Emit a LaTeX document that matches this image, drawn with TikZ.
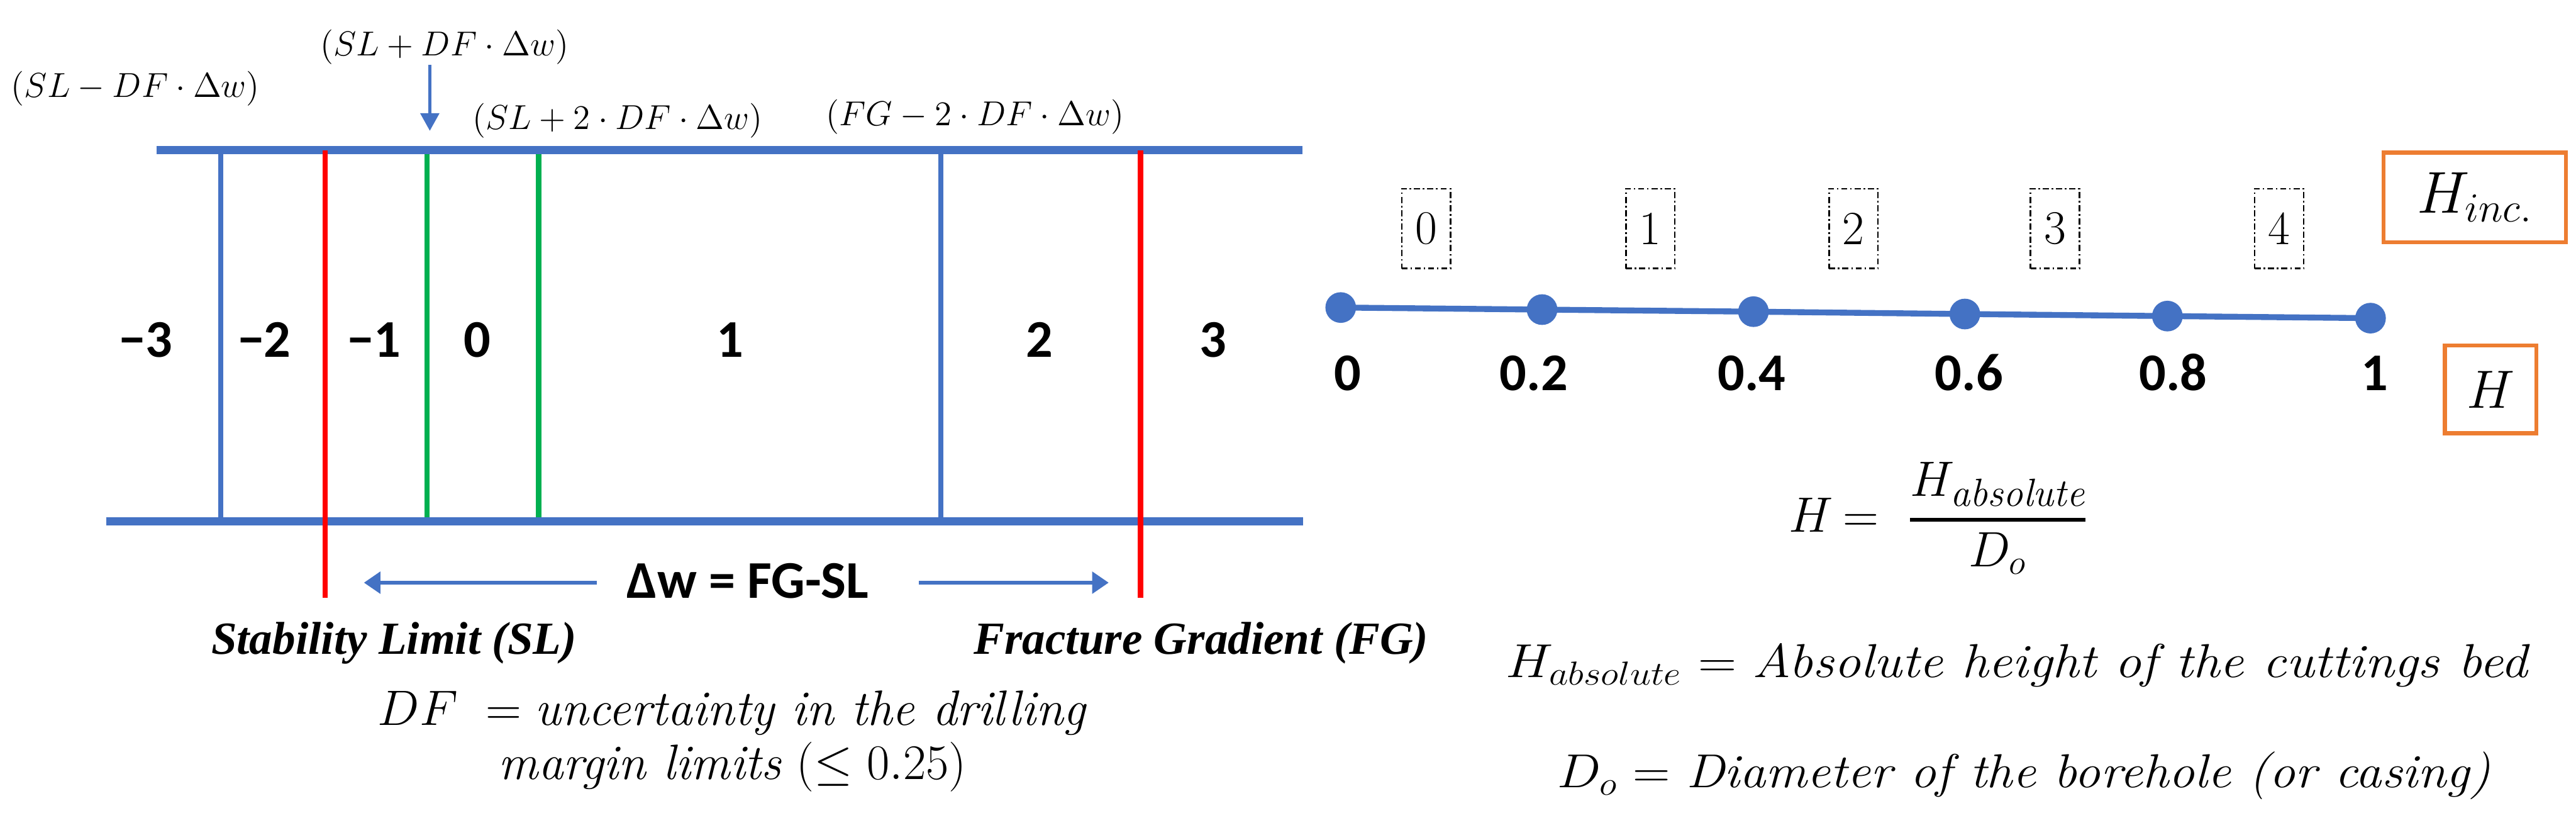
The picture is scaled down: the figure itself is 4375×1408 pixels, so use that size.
\RequirePackage{fix-cm}
\documentclass[tikz,border=0pt]{standalone}
\usepackage{amsmath,amssymb}
\usepackage{graphicx}
\usepackage{fontspec}
\usetikzlibrary{arrows.meta}
\newfontfamily\carlito{Carlito}
\newfontfamily\lserif{Liberation Serif}
\definecolor{oblue}{HTML}{4472C4}
\definecolor{ored}{HTML}{FF0000}
\definecolor{ogreen}{HTML}{00B050}
\definecolor{oorange}{HTML}{ED7D31}
\begin{document}
\begin{tikzpicture}[x=0.01cm,y=-0.01cm,
  rail/.style={oblue,line width=0.14cm},
  bluev/.style={oblue,line width=0.08cm},
  redv/.style={ored,line width=0.09cm},
  greenv/.style={ogreen,line width=0.09cm},
  zone/.style={font=\carlito\bfseries\fontsize{25.6}{30}\selectfont,inner sep=0,anchor=base},
  toplab/.style={font=\fontsize{16.7}{20}\selectfont,inner sep=0},
  limlab/.style={font=\lserif\bfseries\itshape\fontsize{22.2}{26}\selectfont,inner sep=0,anchor=base},
  dftext/.style={font=\fontsize{24}{26.2}\selectfont,inner sep=0,align=center},
  dwarrow/.style={oblue,line width=0.07cm,-{Triangle[length=0.28cm,width=0.36cm]}},
  smallarrow/.style={oblue,line width=0.045cm,-{Triangle[length=0.3cm,width=0.32cm]}},
  dbox/.style={draw=black,line width=0.025cm,dash pattern=on 0.1cm off 0.05cm on 0.025cm off 0.05cm,
    minimum width=0.83cm,minimum height=1.35cm,inner sep=0,font=\fontsize{23}{26}\selectfont},
  obox/.style={draw=oorange,line width=0.07cm,inner sep=0},
  dot/.style={circle,fill=oblue,minimum size=0.52cm,inner sep=0},
  eqfont/.style={font=\fontsize{24}{28}\selectfont,inner sep=0,anchor=base},
  eqtext/.style={font=\fontsize{23}{26}\selectfont,inner sep=0,anchor=base west}
]
\useasboundingbox (0,0) rectangle (4375,1408);

% ---------- left: drilling margin ----------
\coordinate (topL) at (266,255);
\coordinate (topR) at (2212,255);
\coordinate (botL) at (180,885);
\coordinate (botR) at (2213,885);
\coordinate (b1t) at (375,255);  \coordinate (b1b) at (375,885);
\coordinate (r1t) at (552,255);  \coordinate (r1b) at (552,1015);
\coordinate (g1t) at (725,255);  \coordinate (g1b) at (725,885);
\coordinate (g2t) at (915,255);  \coordinate (g2b) at (915,885);
\coordinate (b2t) at (1598,255); \coordinate (b2b) at (1598,885);
\coordinate (r2t) at (1937,255); \coordinate (r2b) at (1937,1015);

\draw[bluev] (b1t) -- (b1b);
\draw[bluev] (b2t) -- (b2b);
\draw[greenv] (g1t) -- (g1b);
\draw[greenv] (g2t) -- (g2b);
\draw[rail] (topL) -- (topR);
\draw[rail] (botL) -- (botR);
\draw[redv] (r1t) -- (r1b);
\draw[redv] (r2t) -- (r2b);

\node[zone] (zm3) at (248,606) {−3};
\node[zone] (zm2) at (449,606) {−2};
\node[zone] (zm1) at (635,606) {−1};
\node[zone] (z0) at (811,606) {0};
\node[zone] (z1) at (1240,606) {1};
\node[zone] (z2) at (1765,606) {2};
\node[zone] (z3) at (2060,606) {3};

\node[toplab] (l1) at (230,150) {$(SL - DF\cdot\Delta w)$};
\node[toplab] (l2) at (755,80) {$(SL + DF\cdot\Delta w)$};
\node[toplab] (l3) at (1049,205) {$(SL + 2\cdot DF\cdot\Delta w)$};
\node[toplab] (l4) at (1656,198) {$(FG - 2\cdot DF\cdot\Delta w)$};
\coordinate (a2s) at (730,110);
\coordinate (a2e) at (730,222);
\draw[smallarrow] (a2s) -- (a2e);

\node[zone] (dw) at (1270,1015) {Δw = FG-SL};
\coordinate (dwl) at (618,989);
\coordinate (dwr) at (1883,989);
\coordinate (dwls) at (1014,989);
\coordinate (dwrs) at (1561,989);
\draw[dwarrow] (dwls) -- (dwl);
\draw[dwarrow] (dwrs) -- (dwr);

\node[limlab] (sl) at (669,1110) {Stability Limit (SL)};
\node[limlab] (fg) at (2040,1110) {Fracture Gradient (FG)};

\node[dftext] (df) at (1244,1258) {$DF\;=\;$\textit{uncertainty in the drilling}\\\textit{margin limits} $(\leq 0.25)$};

% ---------- right: bed height ----------
\node[dot] (d0) at (2277,522) {};
\node[dot] (d1) at (2619,525.5) {};
\node[dot] (d2) at (2978,529) {};
\node[dot] (d3) at (3337,533) {};
\node[dot] (d4) at (3681,536.5) {};
\node[dot] (d5) at (4026,540) {};
\draw[oblue,line width=0.1cm] (d0.center) -- (d1.center) -- (d2.center) -- (d3.center) -- (d4.center) -- (d5.center);

\node[zone] (h0) at (2289,663) {0};
\node[zone] (h1) at (2605,663) {0.2};
\node[zone] (h2) at (2975,663) {0.4};
\node[zone] (h3) at (3344,663) {0.6};
\node[zone] (h4) at (3691,663) {0.8};
\node[zone] (h5) at (4033,663) {1};

\node[dbox] (i0) at (2422,388) {0};
\node[dbox] (i1) at (2803,388) {1};
\node[dbox] (i2) at (3148,388) {2};
\node[dbox] (i3) at (3490,388) {3};
\node[dbox] (i4) at (3871,388) {4};

\node[obox,minimum width=3.1cm,minimum height=1.52cm,font=\fontsize{28.5}{32}\selectfont] (hinc) at (4203,335) {$H_{inc.}$};
\node[obox,minimum width=1.55cm,minimum height=1.49cm,font=\fontsize{26}{30}\selectfont] (hbox) at (4230,661) {$H$};

\node[eqfont] (eqH) at (3076,903) {$H$};
\node[eqfont] (eqeq) at (3160,903) {$=$};
\node[eqfont] (eqfr) at (3393,903) {$\genfrac{}{}{1.8pt}{0}{H_{\mbox{\fontsize{19}{20}\selectfont\itshape absolute}}}{D_o}$};

\node[eqtext] (habs) at (2557,1150) {\resizebox{17.38cm}{\height}{$H_{absolute}$ $=$ \textit{Absolute height of the cuttings bed}}};
\node[eqtext] (do) at (2644,1337) {\resizebox{15.84cm}{\height}{$D_o$ $=$ \textit{Diameter of the borehole (or casing)}}};
\end{tikzpicture}
\end{document}
